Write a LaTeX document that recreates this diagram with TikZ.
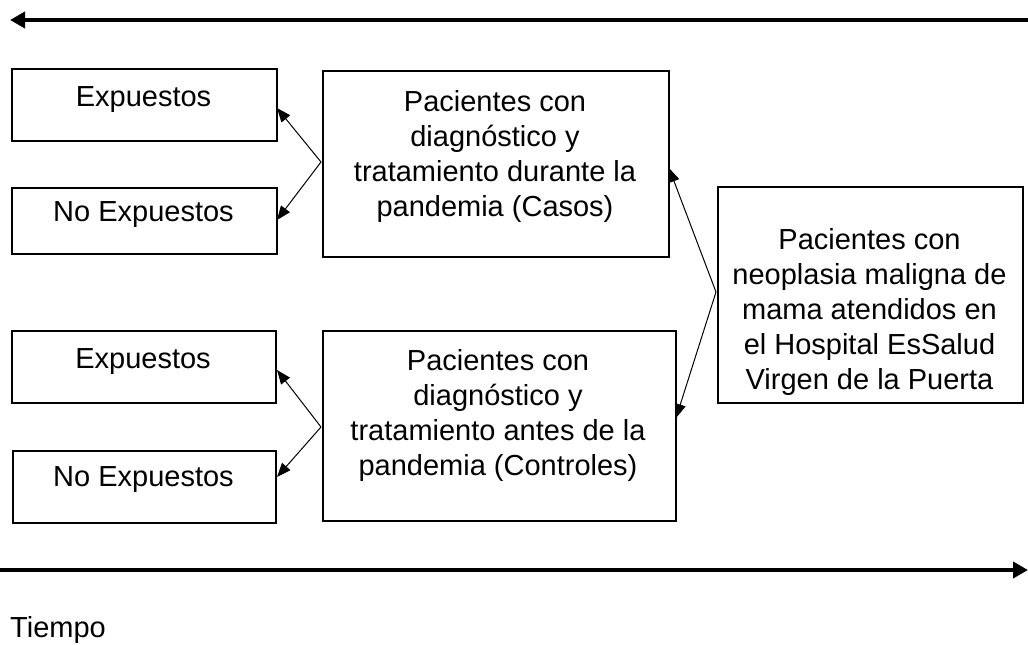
\documentclass[tikz,border=0pt]{standalone}
\usepackage{fontspec}
\setmainfont{Liberation Sans}
\usetikzlibrary{arrows.meta}
\begin{document}
\begin{tikzpicture}[x=1pt,y=-1pt,
  box/.style={draw=black,line width=2pt,inner sep=0pt,anchor=north west},
  txt/.style={align=center,inner sep=0pt,font=\fontsize{29}{35}\selectfont},
  conn/.style={line width=1pt,-{Triangle[length=14pt,width=11pt]}},
  timeline/.style={line width=4pt,-{Triangle[length=15pt,width=16pt]}}]
\useasboundingbox (0,0) rectangle (1028,645);
% boxes
\node[box,minimum width=265pt,minimum height=72pt] (e1) at (11,68) {};
\node[box,minimum width=265pt,minimum height=66pt] (n1) at (11,187) {};
\node[box,minimum width=346pt,minimum height=186pt] (ca) at (322,70) {};
\node[box,minimum width=264pt,minimum height=72pt] (e2) at (11,330) {};
\node[box,minimum width=263pt,minimum height=72pt] (n2) at (12,450) {};
\node[box,minimum width=353pt,minimum height=190pt] (co) at (322,330) {};
\node[box,minimum width=305pt,minimum height=216pt] (pa) at (717,186) {};
% texts
\node[txt] (te1) at (143.5,100) {Expuestos};
\node[txt] (tn1) at (143.5,215) {No Expuestos};
\node[txt] (tca) at (495,156) {Pacientes con\\diagnóstico y\\tratamiento durante la\\pandemia (Casos)};
\node[txt] (te2) at (143,362) {Expuestos};
\node[txt] (tn2) at (143.5,480) {No Expuestos};
\node[txt] (tco) at (498,415) {Pacientes con\\diagnóstico y\\tratamiento antes de la\\pandemia (Controles)};
\node[txt] (tpa) at (869.5,312) {Pacientes con\\neoplasia maligna de\\mama atendidos en\\el Hospital EsSalud\\Virgen de la Puerta};
\node[txt,anchor=west] (tiempo) at (10,629.5) {Tiempo};
% connector points
\coordinate (ca-w) at (321,162);
\coordinate (co-w) at (321,427);
\coordinate (pa-w) at (716,292);
\coordinate (e1-t) at (277,108);
\coordinate (n1-t) at (277,220);
\coordinate (e2-t) at (277,370);
\coordinate (n2-t) at (277,477);
\coordinate (ca-t) at (669,168);
\coordinate (co-t) at (676,418);
\draw[conn] (ca-w) -- (e1-t);
\draw[conn] (ca-w) -- (n1-t);
\draw[conn] (co-w) -- (e2-t);
\draw[conn] (co-w) -- (n2-t);
\draw[conn] (pa-w) -- (ca-t);
\draw[conn] (pa-w) -- (co-t);
% timelines
\coordinate (top-r) at (1028,20);
\coordinate (top-l) at (10,20);
\coordinate (bot-l) at (0,570);
\coordinate (bot-r) at (1028,570);
\draw[timeline] (top-r) -- (top-l);
\draw[timeline] (bot-l) -- (bot-r);
\end{tikzpicture}
\end{document}
